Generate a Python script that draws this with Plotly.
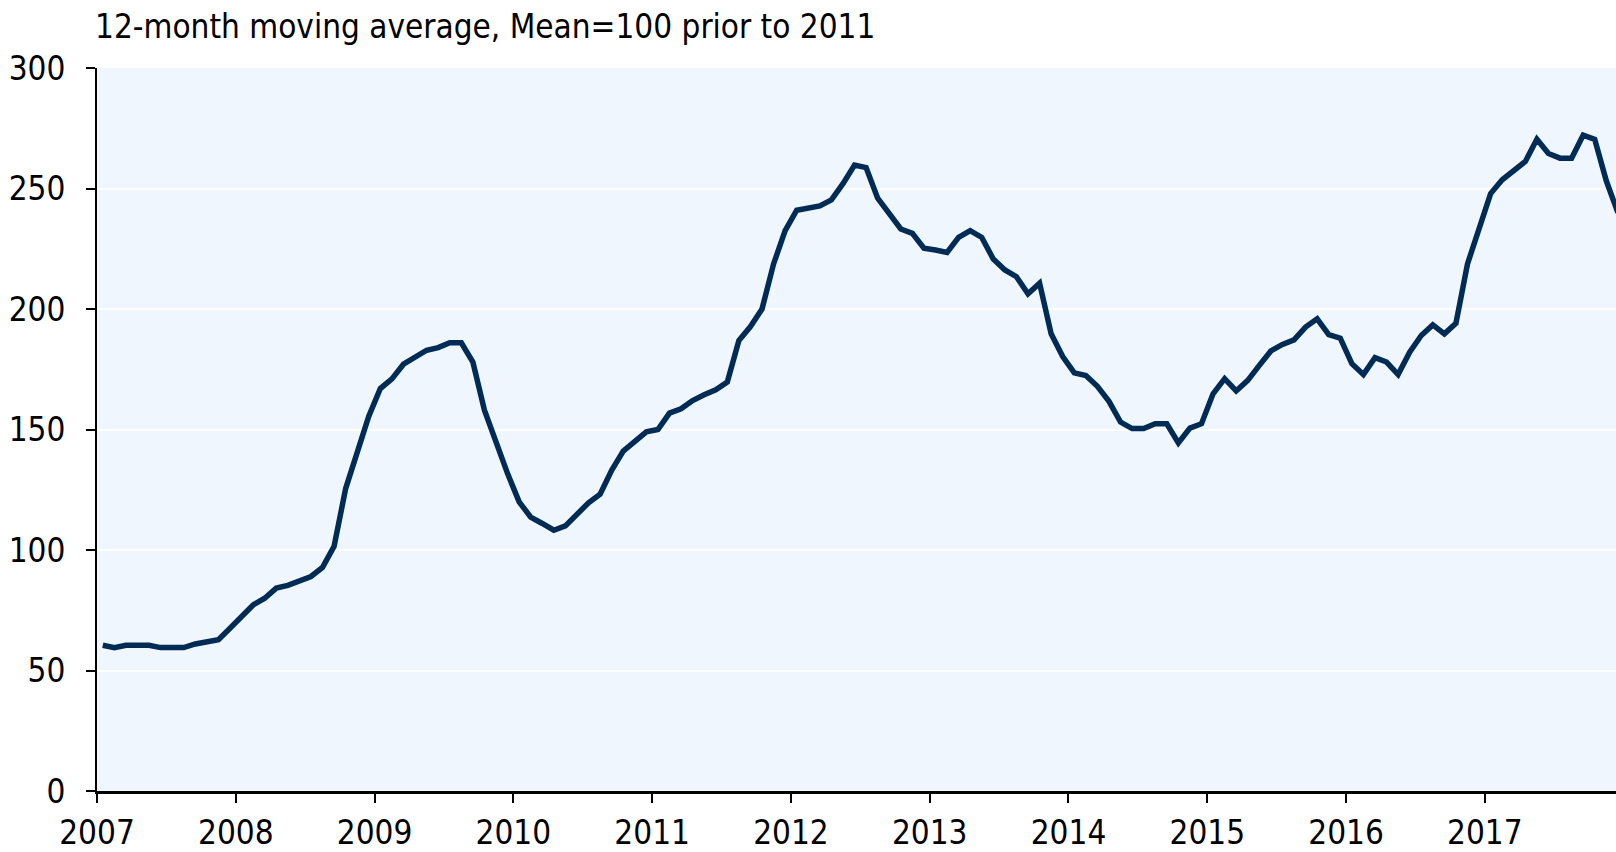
import plotly.graph_objects as go

# Monthly observations, Jan 2007 .. Dec 2017
start_year = 2007
start_month = 1
values = [
    60.5, 59.5, 60.5, 60.5, 60.5, 59.5, 59.5, 59.5, 61.0, 62.0, 62.8, 67.5,   # 2007
    72.5, 77.2, 80.0, 84.2, 85.3, 87.0, 89.0, 92.8, 101.5, 125.5, 141.0, 155.5,  # 2008
    167.0, 171.0, 177.1, 180.0, 182.9, 184.0, 186.0, 186.0, 178.0, 158.0, 144.7, 131.7,  # 2009
    120.0, 113.6, 111.0, 108.2, 110.0, 114.5, 119.6, 123.2, 133.1, 141.0, 145.3, 149.0,  # 2010
    150.0, 156.8, 158.6, 162.0, 164.4, 166.5, 169.7, 186.9, 192.7, 200.0, 218.7, 232.5,  # 2011
    241.0, 242.0, 242.8, 245.3, 252.0, 259.7, 258.7, 246.0, 239.5, 233.2, 231.4, 225.2,  # 2012
    224.5, 223.5, 229.7, 232.5, 229.7, 220.7, 216.2, 213.4, 206.3, 210.7, 189.7, 180.3,  # 2013
    173.5, 172.4, 167.9, 161.7, 153.1, 150.4, 150.4, 152.4, 152.4, 144.4, 150.6, 152.4,  # 2014
    164.8, 171.1, 166.0, 170.4, 176.6, 182.6, 185.3, 187.2, 192.5, 195.9, 189.4, 187.9,  # 2015
    177.3, 172.8, 179.8, 178.0, 172.8, 182.1, 189.0, 193.4, 189.7, 194.1, 218.7, 233.2,  # 2016
    247.9, 253.6, 257.6, 261.2, 270.4, 264.5, 262.6, 262.6, 272.1, 270.4, 253.2, 240.0,  # 2017
]
tick_years = [2007, 2008, 2009, 2010, 2011, 2012, 2013, 2014, 2015, 2016, 2017]
y_ticks = [0, 50, 100, 150, 200, 250, 300]
title_text = "12-month moving average, Mean=100 prior to 2011"

# month mid-points as fractional years
x = [start_year + (start_month - 1 + i + 0.5) / 12 for i in range(len(values))]

FONT = "DejaVu Sans Condensed"
FSIZE = 33

fig = go.Figure()
fig.add_trace(go.Scatter(
    x=x, y=values, mode="lines",
    line=dict(color="#002B55", width=5.5),
    hoverinfo="skip", showlegend=False,
))

fig.update_layout(
    width=1616, height=852,
    margin=dict(l=97, r=0, t=68, b=61, autoexpand=False),
    paper_bgcolor="white",
    plot_bgcolor="#EFF6FD",
    font=dict(family=FONT, size=FSIZE, color="black"),
    annotations=[dict(
        text=title_text, xref="paper", yref="paper",
        x=0.0, y=1.0, xanchor="left", yanchor="middle",
        xshift=-4, yshift=42,
        showarrow=False, font=dict(family=FONT, size=FSIZE, color="black"),
    )],
)
fig.update_xaxes(
    range=[2007, 2017.945],
    automargin=False,
    tickmode="array", tickvals=tick_years, ticktext=[str(t) for t in tick_years],
    showgrid=False, zeroline=False,
    showline=True, linecolor="black", linewidth=3,
    ticks="outside", ticklen=9, tickwidth=2, tickcolor="black",
    tickfont=dict(family=FONT, size=FSIZE),
    ticklabelstandoff=1,
)
fig.update_yaxes(
    range=[0, 300],
    automargin=False,
    tickmode="array", tickvals=y_ticks,
    showgrid=True, gridcolor="white", gridwidth=2,
    zeroline=False,
    showline=True, linecolor="black", linewidth=2,
    ticks="outside", ticklen=9, tickwidth=2, tickcolor="black",
    tickfont=dict(family=FONT, size=FSIZE),
    ticklabelstandoff=14,
)

fig.write_html(
    "out.html",
    config={"displayModeBar": False},
    post_script="document.body.style.margin='0';document.body.style.overflow='hidden';",
)
